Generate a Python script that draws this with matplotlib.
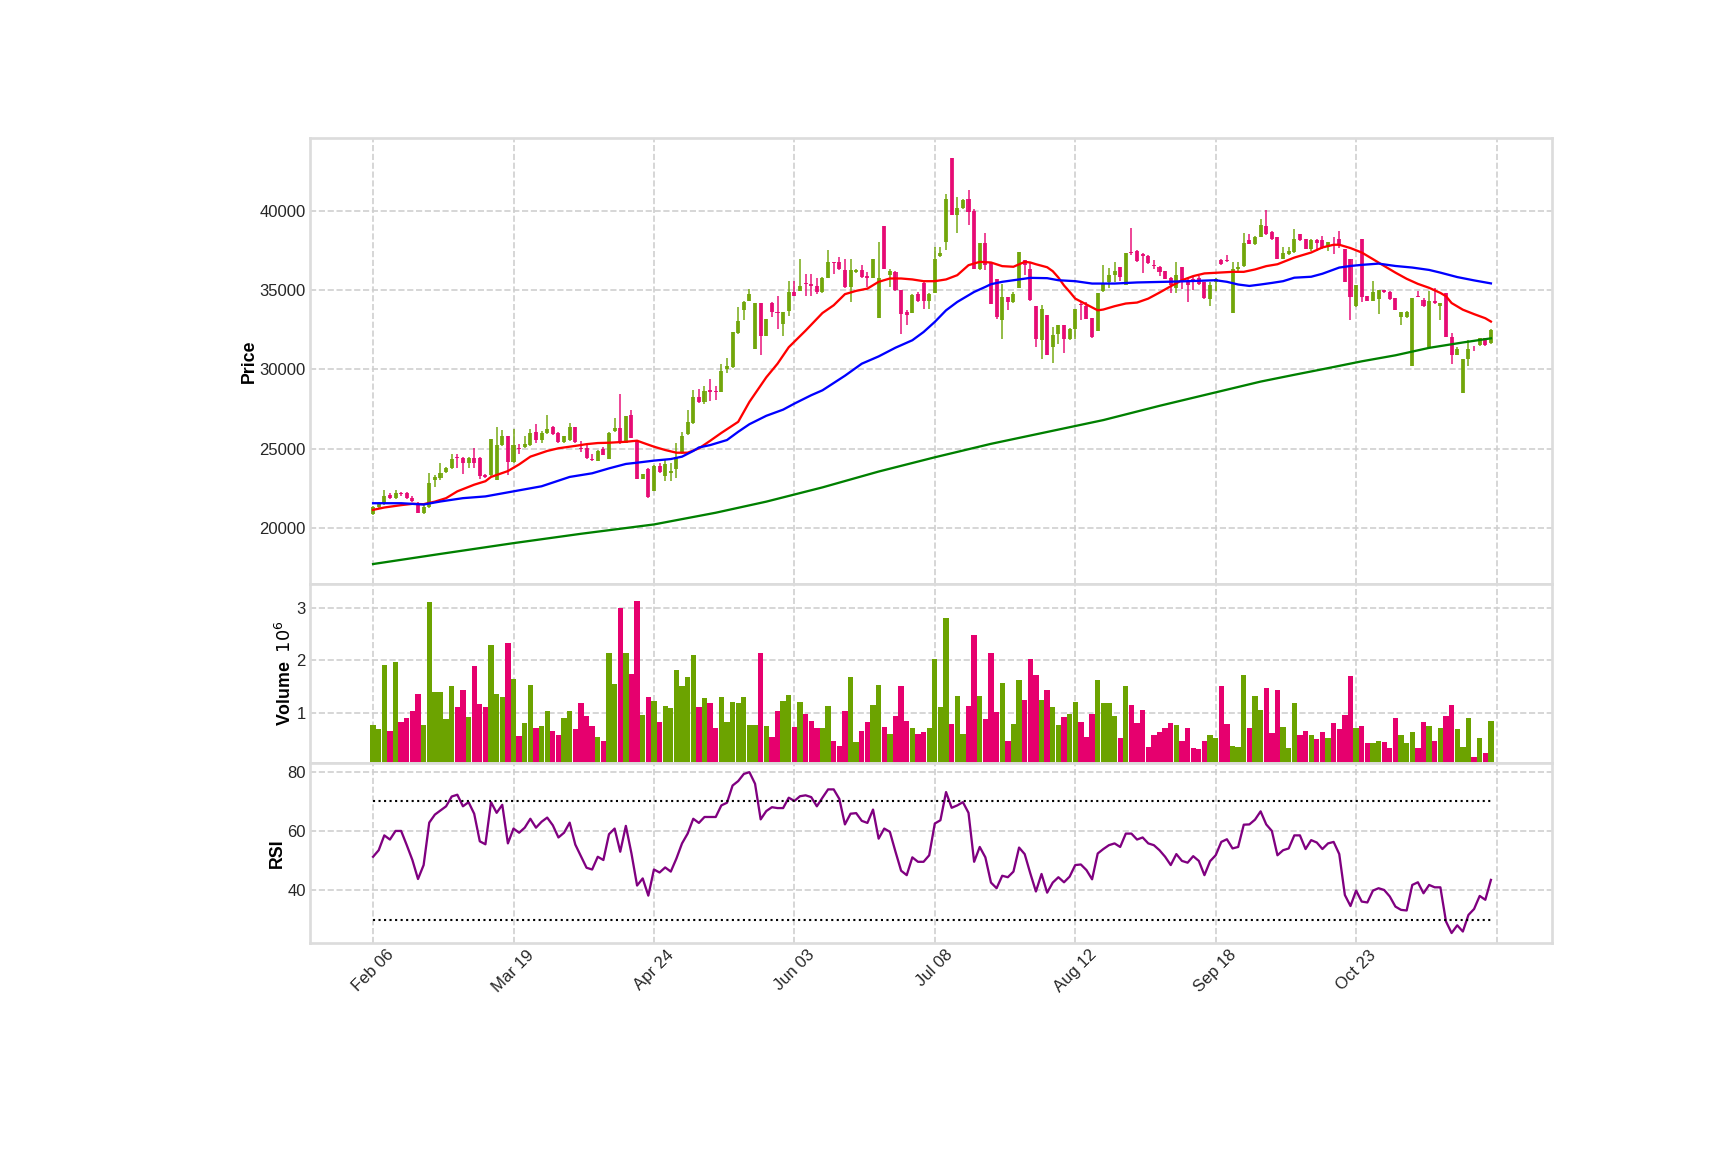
import numpy as np
import matplotlib.pyplot as plt

plt.rcParams['font.family'] = ['Liberation Sans', 'DejaVu Sans']

# x tick labels, one every 25 bars
tick_labels = ['Feb 06', 'Mar 19', 'Apr 24', 'Jun 03', 'Jul 08', 'Aug 12', 'Sep 18', 'Oct 23']

opens = [
    20870, 21300, 21510, 22080, 21850, 22190, 22190, 21870, 21550, 20910,
    21340, 23000, 23170, 23510, 23750, 24450, 24420, 24080, 24420, 24420,
    23360, 23360, 23000, 25210, 25770, 24170, 25020, 25130, 25230, 26020,
    25550, 25980, 26380, 25980, 25430, 25550, 26340, 25060, 25060, 24340,
    24240, 24950, 24340, 26120, 26330, 25330, 27110, 25490, 23100, 23710,
    22350, 23900, 23270, 23480, 23690, 24760, 25890, 26620, 28240, 27925,
    28720, 28620, 28550, 30000, 30150, 32290, 33770, 34340, 31280, 34170,
    32080, 34210, 33650, 32870, 33710, 34900, 34970, 35450, 35390, 35280,
    34890, 35780, 36750, 36750, 36270, 35210, 36160, 36270, 35890, 35800,
    33270, 39050, 35950, 36160, 35040, 33610, 33570, 34750, 35460, 34320,
    34830, 37150, 38060, 43330, 39750, 40170, 40740, 40000, 36330, 37950,
    36790, 35680, 33100, 34540, 34260, 35170, 36900, 36370, 33990, 31830,
    33460, 31410, 32210, 32830, 31900, 32570, 34100, 34010, 33250, 32400,
    34940, 35490, 35950, 36460, 35360, 37410, 37470, 37280, 37170, 36580,
    36460, 36200, 35740, 35150, 36460, 35530, 35700, 35740, 35490, 34470,
    35490, 36900, 36900, 33590, 36370, 36520, 38140, 37930, 38380, 39030,
    38660, 38340, 36980, 37280, 37430, 38550, 38230, 37600, 38170, 38170,
    37700, 38190, 38230, 37600, 36960, 33980, 38230, 34620, 34340, 34470,
    35040, 34890, 34510, 33280, 33280, 30210, 34620, 34400, 31430, 34340,
    33980, 34830, 32060, 30890, 28510, 30680, 31430, 31570, 31960, 31640,
]
highs = [
    21380, 21600, 22360, 22190, 22360, 22230, 22270, 21980, 21600, 21420,
    23430, 23320, 24100, 23850, 24660, 24640, 24440, 24440, 25060, 24440,
    23400, 25600, 26340, 26190, 25770, 26230, 25280, 25810, 26230, 26550,
    26130, 27130, 26440, 26020, 25810, 26620, 26340, 25490, 25280, 24660,
    24910, 25120, 26060, 26940, 28430, 27050, 27460, 25540, 23400, 23750,
    23960, 24070, 24280, 24070, 25330, 26060, 27460, 28680, 28780, 28930,
    29410, 28950, 30310, 30730, 32330, 33960, 34340, 35070, 34170, 34170,
    33190, 34230, 34610, 33650, 35600, 35600, 36960, 36010, 36010, 35800,
    35840, 37570, 36800, 37110, 37000, 36940, 36330, 36580, 36160, 36960,
    38060, 39050, 36370, 36220, 35040, 33740, 34750, 34900, 35530, 34830,
    37740, 37740, 41060, 43330, 40910, 40740, 41330, 40110, 37950, 38590,
    36790, 35680, 35420, 34580, 34890, 37430, 36900, 36690, 33990, 34050,
    33460, 32680, 32830, 32830, 32620, 33840, 34260, 34260, 33250, 34850,
    36620, 36410, 36750, 36460, 37380, 38950, 37530, 37340, 37220, 36900,
    36540, 36200, 35850, 36750, 36460, 35780, 35850, 35910, 35530, 35490,
    35780, 37000, 37250, 36750, 36750, 38590, 38520, 38440, 39490, 40060,
    38770, 38380, 37700, 37700, 38870, 38550, 38230, 38230, 38230, 38450,
    38020, 38340, 38770, 37600, 36960, 35300, 38230, 34620, 35570, 35040,
    35040, 34930, 34510, 33620, 33700, 34510, 34940, 34510, 34940, 35150,
    34190, 34830, 32280, 31430, 30680, 31850, 31490, 31960, 32000, 32560,
]
lows = [
    20830, 21250, 21450, 21810, 21810, 21980, 21810, 21600, 20910, 20870,
    21280, 22570, 23040, 23470, 23680, 23790, 23400, 23790, 23790, 23080,
    23150, 23250, 23000, 25170, 23320, 24110, 24640, 25060, 25170, 25380,
    25380, 25940, 25850, 25380, 25380, 25490, 25380, 24790, 24320, 24230,
    24220, 24580, 24320, 26060, 25290, 25330, 25640, 23060, 23060, 21870,
    22350, 23480, 22980, 22980, 23130, 24650, 25850, 26580, 27880, 27840,
    28010, 28080, 28550, 29770, 30110, 32250, 33120, 34340, 31280, 30940,
    32080, 33290, 32560, 32140, 33400, 34650, 34930, 34650, 34650, 34760,
    34830, 35740, 36010, 36270, 35170, 34260, 36100, 35740, 35210, 35740,
    33270, 36330, 35210, 34960, 32260, 32780, 33530, 34260, 33840, 33840,
    34830, 37110, 37570, 39750, 38630, 40110, 39110, 36330, 36300, 36270,
    34160, 33210, 31940, 33780, 34200, 35170, 35950, 34330, 31410, 30670,
    30890, 30420, 31620, 31050, 31840, 31940, 33100, 33160, 32010, 32400,
    34890, 35150, 35490, 35570, 35320, 37220, 36800, 36060, 36650, 36370,
    35910, 35700, 34850, 34850, 35100, 34260, 35000, 35320, 34470, 34010,
    34920, 36580, 36770, 33590, 36160, 36480, 37890, 37850, 38330, 38480,
    38170, 36960, 36940, 37240, 37380, 38130, 37600, 37490, 37490, 37600,
    37490, 37280, 37660, 35530, 33130, 33920, 34260, 34340, 34300, 33490,
    34830, 34410, 33770, 32810, 33240, 30210, 34550, 33920, 31430, 34150,
    33130, 32060, 30360, 30890, 28510, 30210, 31150, 31490, 31490, 31600,
]
closes = [
    21300, 21510, 22020, 21850, 22190, 22130, 21850, 21660, 20910, 21340,
    22830, 23210, 23430, 23750, 24320, 24380, 24080, 24420, 24080, 23300,
    23190, 25600, 25210, 25770, 24170, 25230, 24960, 25300, 25980, 25550,
    25980, 26230, 25920, 25430, 25770, 26340, 25430, 25000, 24380, 24300,
    24840, 24610, 26000, 26330, 25330, 27050, 25680, 23100, 23370, 21970,
    23900, 23540, 24030, 23590, 24490, 25790, 26670, 28260, 27925, 28640,
    28570, 28590, 29870, 30190, 32330, 33040, 34230, 34740, 34170, 32080,
    33190, 33600, 33540, 33650, 34900, 34650, 35280, 35370, 35240, 34860,
    35800, 36750, 36690, 36370, 35210, 36270, 36270, 35840, 35780, 36960,
    35800, 36370, 36200, 35000, 33520, 33440, 34680, 34320, 34320, 34750,
    37000, 37320, 40740, 39750, 40170, 40700, 39960, 36330, 37950, 36580,
    34160, 33310, 34580, 34260, 34790, 37430, 36580, 34370, 31940, 33840,
    30890, 32150, 32780, 31900, 32570, 33840, 34050, 33210, 32050, 34850,
    35460, 35990, 36200, 35840, 37380, 37360, 36860, 37170, 36690, 36520,
    36160, 35700, 35320, 35990, 35570, 35320, 35490, 35420, 34510, 35360,
    35700, 36650, 36860, 36370, 36460, 37950, 37930, 38380, 39110, 38520,
    38230, 37000, 37320, 37490, 38230, 38170, 37600, 38170, 37960, 37660,
    38020, 38150, 37920, 35530, 34550, 35300, 34550, 34340, 34890, 35040,
    34870, 34470, 33770, 33620, 33620, 34510, 34550, 33980, 34340, 34190,
    34190, 32060, 30890, 31280, 30680, 31280, 31410, 31960, 31570, 32490,
]
# volume in millions
volumes = [
    0.77, 0.68, 1.91, 0.66, 1.97, 0.83, 0.89, 1.04, 1.36, 0.77,
    3.10, 1.40, 1.40, 0.87, 1.51, 1.11, 1.44, 0.92, 1.88, 1.17,
    1.10, 2.28, 1.36, 1.30, 2.33, 1.65, 0.56, 0.81, 1.53, 0.71,
    0.75, 1.04, 0.66, 0.58, 0.90, 1.04, 0.68, 1.19, 0.94, 0.75,
    0.54, 0.47, 2.14, 1.55, 3.00, 2.14, 1.74, 3.13, 0.96, 1.30,
    1.23, 0.83, 1.13, 1.08, 1.82, 1.51, 1.67, 2.10, 1.10, 1.27,
    1.19, 0.71, 1.30, 0.83, 1.21, 1.19, 1.30, 0.77, 0.77, 2.14,
    0.75, 0.54, 1.04, 1.23, 1.34, 0.73, 1.21, 0.98, 0.85, 0.71,
    0.71, 1.13, 0.47, 0.37, 1.04, 1.67, 0.45, 0.66, 0.83, 1.15,
    1.53, 0.73, 0.60, 0.94, 1.51, 0.85, 0.70, 0.60, 0.64, 0.70,
    2.03, 1.10, 2.81, 0.79, 1.32, 0.60, 1.13, 2.47, 1.32, 0.87,
    2.14, 1.02, 1.57, 0.47, 0.79, 1.63, 1.25, 2.03, 1.72, 1.25,
    1.44, 1.11, 0.77, 0.92, 0.98, 1.21, 0.83, 0.54, 0.98, 1.63,
    1.19, 1.19, 0.94, 0.52, 1.51, 1.15, 0.81, 1.06, 0.35, 0.58,
    0.64, 0.70, 0.81, 0.77, 0.47, 0.70, 0.33, 0.31, 0.47, 0.58,
    0.52, 1.51, 0.79, 0.37, 0.35, 1.72, 0.71, 1.32, 1.06, 1.46,
    0.62, 1.44, 0.73, 0.33, 1.19, 0.58, 0.66, 0.58, 0.50, 0.64,
    0.52, 0.81, 0.68, 0.96, 1.70, 0.70, 0.75, 0.43, 0.43, 0.47,
    0.45, 0.33, 0.89, 0.58, 0.43, 0.64, 0.33, 0.83, 0.75, 0.47,
    0.70, 0.94, 1.15, 0.68, 0.35, 0.89, 0.16, 0.52, 0.24, 0.85,
]
rsi = [
    51.3, 53.5, 58.5, 57.1, 60.0, 60.0, 55.2, 50.2, 43.8, 48.5,
    62.8, 65.5, 66.9, 68.3, 71.6, 72.2, 68.3, 69.7, 65.8, 56.5,
    55.5, 69.7, 66.1, 68.8, 55.8, 60.8, 59.4, 61.1, 64.1, 61.1,
    63.1, 64.5, 61.9, 57.8, 59.4, 62.8, 55.4, 51.5, 47.6, 47.0,
    51.3, 50.2, 58.9, 60.8, 53.0, 61.7, 52.4, 41.6, 44.0, 38.2,
    47.0, 46.0, 47.7, 46.3, 50.7, 55.8, 59.1, 64.1, 62.7, 64.7,
    64.7, 64.7, 68.6, 69.5, 75.3, 76.8, 79.2, 79.8, 75.9, 63.9,
    66.7, 68.0, 67.7, 67.7, 71.2, 70.1, 71.7, 72.0, 71.4, 68.3,
    71.2, 74.0, 74.0, 70.8, 62.2, 65.8, 66.0, 63.4, 62.7, 67.2,
    57.4, 60.8, 59.7, 53.0, 46.6, 45.1, 51.1, 49.6, 49.6, 51.8,
    62.5, 63.6, 73.1, 67.8, 68.6, 69.7, 66.1, 49.6, 54.6, 51.1,
    42.6, 40.7, 44.9, 44.4, 46.3, 54.4, 52.2, 45.7, 39.6, 45.5,
    39.2, 42.6, 44.4, 42.7, 44.6, 48.5, 48.7, 46.8, 43.7, 52.4,
    53.9, 55.2, 55.8, 54.6, 59.1, 59.1, 57.1, 57.8, 55.8, 55.2,
    53.5, 51.3, 48.5, 52.2, 49.9, 49.3, 51.5, 49.9, 45.1, 49.8,
    51.8, 56.3, 57.2, 54.1, 54.6, 62.1, 62.2, 63.8, 66.6, 62.2,
    60.0, 51.8, 53.5, 54.1, 58.5, 58.5, 53.9, 56.9, 56.1, 53.9,
    55.8, 56.3, 52.2, 38.4, 34.7, 39.9, 36.2, 35.9, 39.9, 40.7,
    40.1, 37.9, 34.5, 33.4, 33.2, 41.8, 42.7, 39.0, 41.8, 41.0,
    41.0, 29.5, 25.6, 28.2, 26.1, 31.7, 33.7, 38.1, 36.8, 43.5,
]

# moving averages, read at selected bars
ma_fast_idx = [0, 2, 5, 7, 9, 11, 13, 15, 18, 20, 21, 24, 26, 28, 31, 33, 36, 38, 40, 42,
               45, 47, 48, 50, 52, 54, 56, 58, 60, 62, 65, 67, 70, 72, 74, 77, 80, 82, 84, 86,
               88, 90, 92, 94, 96, 98, 100, 102, 104, 106, 108, 110, 112, 114, 116, 117, 118, 120, 121, 122,
               123, 124, 125, 127, 129, 130, 132, 134, 136, 138, 140, 142, 144, 146, 148, 150, 153, 155, 157, 159,
               161, 164, 167, 169, 171, 172, 174, 176, 178, 180, 182, 184, 186, 188, 190, 191, 192, 194, 196, 198, 199]
ma_fast = [21130, 21280, 21430, 21510, 21490, 21650, 21870, 22300, 22720, 22940, 23210, 23580, 24000, 24490, 24850, 25020, 25170, 25280, 25350, 25370,
           25430, 25500, 25370, 25120, 24910, 24740, 24740, 25010, 25490, 25990, 26690, 27950, 29500, 30360, 31400, 32450, 33560, 34050, 34750, 34960,
           35100, 35530, 35740, 35740, 35680, 35570, 35570, 35680, 35950, 36580, 36790, 36750, 36520, 36480, 36790, 36750, 36640, 36450, 36200, 35800,
           35300, 34900, 34470, 34100, 33730, 33780, 33990, 34160, 34220, 34470, 34850, 35250, 35630, 35890, 36060, 36100, 36160, 36160, 36310, 36520,
           36640, 37060, 37380, 37700, 37870, 37870, 37660, 37380, 36960, 36530, 36110, 35720, 35400, 35150, 34830, 34620, 34190, 33770, 33490, 33230, 33020]

ma_mid_idx = [0, 5, 9, 12, 16, 20, 25, 30, 35, 39, 42, 45, 47, 50, 53, 55, 57, 58, 60, 63,
              65, 67, 70, 73, 75, 78, 80, 84, 87, 90, 93, 96, 98, 100, 102, 104, 106, 107, 109, 110,
              112, 114, 117, 120, 122, 125, 128, 132, 136, 141, 145, 150, 152, 154, 156, 158, 160, 162, 164, 167,
              169, 172, 174, 176, 179, 182, 185, 188, 190, 193, 196, 199]
ma_mid = [21550, 21550, 21470, 21660, 21870, 21980, 22300, 22620, 23210, 23440, 23750, 24030, 24110, 24240, 24340, 24490, 24850, 25070, 25220, 25540,
          26060, 26540, 27070, 27460, 27840, 28370, 28680, 29600, 30360, 30820, 31370, 31840, 32360, 33000, 33730, 34260, 34680, 34890, 35210, 35380,
          35530, 35630, 35780, 35760, 35630, 35570, 35420, 35420, 35490, 35530, 35570, 35630, 35530, 35360, 35270, 35360, 35460, 35570, 35790, 35850,
          36040, 36430, 36530, 36600, 36680, 36530, 36430, 36280, 36110, 35830, 35620, 35430]

ma_slow_idx = [0, 12, 25, 37, 50, 61, 70, 80, 90, 100, 110, 120, 130, 140, 150, 158, 164, 170, 176, 182, 188, 194, 199]
ma_slow = [17710, 18350, 19030, 19620, 20210, 20950, 21650, 22550, 23550, 24450, 25300, 26050, 26800, 27700, 28550, 29230, 29660, 30080, 30510, 30890,
           31360, 31700, 31960]

rsi_upper = 70
rsi_lower = 30

UP = '#6ca300'
DOWN = '#e6006e'

o = np.array(opens, dtype=float)
h = np.array(highs, dtype=float)
l = np.array(lows, dtype=float)
c = np.array(closes, dtype=float)
x = np.arange(len(c))
cols = np.where(c >= o, UP, DOWN)

fig = plt.figure(figsize=(11.5, 7.6667), dpi=150)
ax1 = fig.add_axes([0.1798, 0.4919, 0.72, 0.3885])
ax2 = fig.add_axes([0.1798, 0.3368, 0.72, 0.1551], sharex=ax1)
ax3 = fig.add_axes([0.1798, 0.1799, 0.72, 0.1569], sharex=ax1)

for ax in (ax1, ax2, ax3):
    ax.grid(True, linestyle='--', color='#cfcfcf', linewidth=0.8)
    ax.set_axisbelow(True)
    for s in ax.spines.values():
        s.set_color('#dcdcdc')
        s.set_linewidth(1.3)
    ax.tick_params(length=0, labelsize=8, colors='#262626', pad=2)

# candles
ax1.vlines(x, l, h, colors=cols, linewidth=0.8, alpha=0.85)
ax1.bar(x, np.abs(c - o), bottom=np.minimum(o, c), width=0.72, color=cols, alpha=0.85, linewidth=0)
ax1.plot(ma_fast_idx, ma_fast, color='red', linewidth=1.1)
ax1.plot(ma_mid_idx, ma_mid, color='blue', linewidth=1.1)
ax1.plot(ma_slow_idx, ma_slow, color='green', linewidth=1.1)
ax1.set_ylim(16430, 44640)
ax1.set_yticks([20000, 25000, 30000, 35000, 40000])
ax1.set_ylabel('Price', fontweight='bold', fontsize=8.5, labelpad=1)

# volume
ax2.bar(x, volumes, width=0.95, color=cols, linewidth=0)
ax2.set_ylim(0.3 * min(volumes), 1.1 * max(volumes))
ax2.set_yticks([1, 2, 3])
ax2.set_ylabel('Volume  $10^{6}$', fontweight='bold', fontsize=8.5, labelpad=1)

# rsi
ax3.plot(x, rsi, color='purple', linewidth=1.1)
ax3.plot([x[0], x[-1]], [rsi_upper, rsi_upper], color='black', linestyle=':', linewidth=1.0)
ax3.plot([x[0], x[-1]], [rsi_lower, rsi_lower], color='black', linestyle=':', linewidth=1.0)
ax3.set_ylim(22.2, 83.0)
ax3.set_yticks([40, 60, 80])
ax3.set_ylabel('RSI', fontweight='bold', fontsize=8.5, labelpad=1)

ax3.set_xlim(-11.2, 209.9)
ax3.set_xticks(np.arange(0, 201, 25))
ax3.set_xticklabels(tick_labels + [''], rotation=45)
ax1.tick_params(labelbottom=False)
ax2.tick_params(labelbottom=False)

fig.savefig('out.png', dpi=150)
